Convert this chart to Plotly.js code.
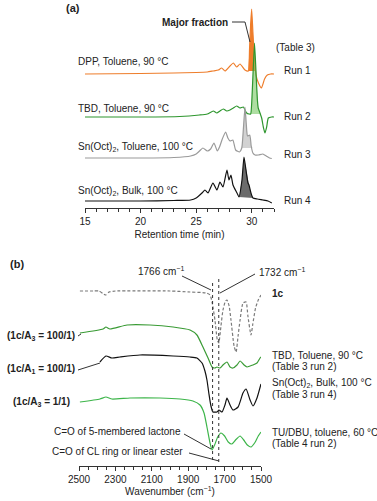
<!DOCTYPE html>
<html>
<head>
<meta charset="utf-8">
<script src="https://cdn.plot.ly/plotly-3.0.1.min.js"></script>
<style>
  html, body { margin: 0; padding: 0; background: #fff; }
  #chart { width: 377px; height: 501px; }
</style>
</head>
<body>
<div id="chart"></div>
<script>
// (a) GPC traces, retention time (min) vs relative signal
const run1T = [15, 20, 23, 25, 26, 26.5, 26.99, 27.29, 27.59, 28.04, 28.34, 28.64, 28.94, 29.39, 29.69, 29.8, 29.9, 29.99, 30.1, 30.2, 30.38, 30.6, 30.87, 31.15, 31.4, 31.7, 32];
const run1Y = [0, 0.5, 1, 1.5, 2, 3, 4, 6, 3, 8, 11, 7, 10, 4, 3, 25, 50, 65, 42, 22, -1, -9, -14, -5, -1, 0, 0];

const run2T = [15, 20, 23.5, 25.3, 26, 26.54, 26.85, 27.14, 27.44, 27.75, 28.04, 28.34, 28.64, 28.94, 29.24, 29.54, 29.75, 29.9, 30.0, 30.1, 30.25, 30.4, 30.5, 30.58, 30.74, 30.89, 31.04, 31.19, 31.34, 31.49, 31.79, 32];
const run2Y = [0, 0, 0.5, 2, 3, 6, 4, 6, 8, 6, 7, 9, 11, 9, 10, 4, 3, 3, 15, 40, 74, 40, 18, 9, 4, -1, -10, -16, -10, -1, 0, 0];

const run3T = [15, 20, 23, 24.5, 25.0, 25.3, 25.6, 26.0, 26.3, 26.6, 26.9, 27.1, 27.35, 27.65, 27.85, 28.05, 28.3, 28.55, 28.9, 29.1, 29.25, 29.39, 29.5, 29.62, 29.82, 29.95, 30.1, 30.3, 30.6, 31.0, 31.3, 31.6, 31.8];
const run3Y = [0, 0, 0.5, 2, 4, 7, 10, 7, 9, 15, 7, 11, 19, 26, 20, 17, 18, 8, 6, 10, 30, 51, 35, 22, 23, 12, 5, 3, 3, 4, 2, 0, -0.5];

const run4T = [15, 20, 23, 24.5, 25.0, 25.52, 25.79, 26.06, 26.51, 26.87, 27.14, 27.41, 27.77, 27.95, 28.13, 28.31, 28.67, 28.85, 29.12, 29.3, 29.48, 29.66, 29.75, 29.93, 30.11, 30.5, 31.0, 31.46, 31.8];
const run4Y = [0, 0, 0.5, 1, 3, 8, 11, 8, 18, 11, 19, 14, 31, 21, 26, 16, 8, 4, 21, 44, 31, 18, 16, 8, 3, 2, 1, 0, -2];

// shaded "major fraction" windows [from, to]
const fractionWin = [[29.69, 30.33], [29.7, 30.85], [28.94, 30.08], [28.85, 30.11]];

// (b) IR spectra, wavenumber (cm-1) vs relative transmittance
const ir1cW = [2495, 2420, 2390, 2365, 2352, 2335, 2300, 2000, 1890, 1800, 1780, 1769, 1753, 1740, 1732, 1720, 1709, 1695, 1687, 1675, 1665, 1648, 1637, 1626, 1615, 1599, 1582, 1572, 1555, 1545, 1530, 1515, 1500];
const ir1c = [0, 0, 0, -3, -4, -1, 0, 0, -1, -2, -4, -11, -29, -49, -52, -35, -19, -10, -9, -15, -29, -55, -61, -45, -29, -12, -11, -25, -44, -33, -17, -9, -4];

const irTbdW = [2495, 2368, 2352, 2330, 2236, 2110, 1983, 1890, 1852, 1819, 1791, 1769, 1753, 1742, 1725, 1709, 1687, 1670, 1654, 1632, 1615, 1593, 1577, 1560, 1544, 1522, 1505, 1500];
const irTbd = [-7, -3, -1, -3, 1, 1, -1, -4, -9, -21, -32, -41, -42, -41, -42, -39, -36, -41, -42, -39, -35, -39, -41, -40, -39, -37, -32, -31];

const irSnW = [2385, 2352, 2319, 2275, 2165, 1983, 1890, 1852, 1824, 1808, 1797, 1786, 1775, 1764, 1742, 1731, 1714, 1698, 1687, 1670, 1654, 1626, 1599, 1582, 1560, 1544, 1522, 1500];
const irSn = [-6, 0, -2, -1, 1, 0, -1, -2, -7, -15, -24, -38, -50, -56, -56, -54, -56, -49, -42, -49, -54, -51, -37, -33, -44, -50, -42, -28];

const irTuW = [2495, 2385, 2352, 2319, 2220, 2055, 1945, 1874, 1835, 1813, 1797, 1780, 1769, 1755, 1738, 1720, 1700, 1680, 1660, 1640, 1615, 1595, 1575, 1555, 1535, 1515, 1500];
const irTu = [-4, -1, 1, -1, 0, 0, -1, -3, -7, -15, -29, -45, -52, -47, -39, -35, -38, -44, -46, -42, -38, -42, -47, -49, -45, -38, -34];

const irBands = [1766, 1732];

// stacking offsets (in plot units)
const W = 377, H = 501;
const runOff = [134, 91, 50, 7];
const irOff = { c1: 175, tbd: 140, sn: 110, tu: 68 };

const FONT = 'Liberation Sans, Arial, sans-serif';
const TXT = '#222';

function line(x, y, off, color, extra) {
  return Object.assign({
    x: x, y: y.map(v => v + off), type: 'scatter', mode: 'lines',
    line: { color: color, width: 1.2, shape: 'spline', smoothing: 0.5 },
    hoverinfo: 'skip', showlegend: false
  }, extra || {});
}

function peakFill(x, y, win, off, color, xa, ya) {
  const xs = [], ys = [];
  x.forEach((t, i) => { if (t >= win[0] && t <= win[1]) { xs.push(t); ys.push(y[i] + off); } });
  const b0 = ys[0], b1 = ys[ys.length - 1];
  const base = Math.min(b0, b1);
  return {
    x: [win[0], ...xs, win[1]], y: [Math.min(b0, base + 1), ...ys, base], type: 'scatter', mode: 'lines',
    fill: 'toself', fillcolor: color, line: { width: 0, color: color },
    xaxis: xa, yaxis: ya, hoverinfo: 'skip', showlegend: false
  };
}

const runs = [
  { t: run1T, y: run1Y, c: '#EE7D2B', f: '#EE7D2B' },
  { t: run2T, y: run2Y, c: '#2E962E', f: 'rgba(120,200,100,0.6)' },
  { t: run3T, y: run3Y, c: '#9a9a9a', f: '#d2d2d2' },
  { t: run4T, y: run4Y, c: '#111111', f: '#6b6b6b' }
];

const traces = [];
runs.forEach((r, i) => {
  traces.push(peakFill(r.t, r.y, fractionWin[i], runOff[i], r.f, 'x', 'y'));
  traces.push(line(r.t, r.y, runOff[i], r.c, { xaxis: 'x', yaxis: 'y' }));
});

traces.push(line(ir1cW, ir1c, irOff.c1, '#7a7a7a', { xaxis: 'x2', yaxis: 'y2', line: { color: '#7a7a7a', width: 1.2, dash: '3px,2px', shape: 'spline', smoothing: 0.5 } }));
traces.push(line(irTbdW, irTbd, irOff.tbd, '#3A9B35', { xaxis: 'x2', yaxis: 'y2' }));
traces.push(line(irSnW, irSn, irOff.sn, '#111111', { xaxis: 'x2', yaxis: 'y2' }));
traces.push(line(irTuW, irTu, irOff.tu, '#3DB54A', { xaxis: 'x2', yaxis: 'y2' }));

function px(x) { return x / W; }
function py(y) { return 1 - y / H; }

function note(text, x, y, anchor, size) {
  return {
    text: text, xref: 'paper', yref: 'paper', x: px(x), y: py(y),
    xanchor: anchor, yanchor: 'middle', showarrow: false,
    font: { family: FONT, size: size || 10, color: TXT }
  };
}

function seg(x0, y0, x1, y1) {
  return {
    type: 'line', xref: 'paper', yref: 'paper',
    x0: px(x0), y0: py(y0), x1: px(x1), y1: py(y1),
    line: { color: '#333', width: 1 }
  };
}

const annotations = [
  note('<b>(a)</b>', 64, 8, 'left', 11),
  note('<b>Major fraction</b>', 230, 22, 'right'),
  note('(Table 3)', 274, 47, 'left'),
  note('Run 1', 282, 71, 'left'),
  note('Run 2', 282, 117, 'left'),
  note('Run 3', 282, 155, 'left'),
  note('Run 4', 282, 201, 'left'),
  note('DPP, Toluene, 90 °C', 76, 62, 'left'),
  note('TBD, Toluene, 90 °C', 76, 108, 'left'),
  note('Sn(Oct)<sub>2</sub>, Toluene, 100 °C', 76, 147, 'left'),
  note('Sn(Oct)<sub>2</sub>, Bulk, 100 °C', 76, 191, 'left'),

  note('<b>(b)</b>', 8, 264, 'left', 11),
  note('1766 cm<sup>−1</sup>', 161, 271, 'center'),
  note('1732 cm<sup>−1</sup>', 257, 272, 'left'),
  note('<b>1c</b>', 270, 293, 'left'),
  note('<b>(1c/A<sub>3</sub> = 100/1)</b>', 77, 336, 'right'),
  note('<b>(1c/A<sub>1</sub> = 100/1)</b>', 77, 369, 'right'),
  note('<b>(1c/A<sub>3</sub> = 1/1)</b>', 72, 402, 'right'),
  note('TBD, Toluene, 90 °C', 270, 355, 'left'),
  note('(Table 3 run 2)', 270, 366, 'left'),
  note('Sn(Oct)<sub>2</sub>, Bulk, 100 °C', 270, 383, 'left'),
  note('(Table 3 run 4)', 270, 394, 'left'),
  note('TU/DBU, toluene, 60 °C', 270, 432, 'left'),
  note('(Table 4 run 2)', 270, 443, 'left'),
  note('C=O of 5-membered lactone', 183, 431, 'right'),
  note('C=O of CL ring or linear ester', 185, 451, 'right')
];

const shapes = [
  seg(232, 22, 245, 22), seg(245, 22, 250, 42),
  seg(182, 276, 211, 290),
  seg(255, 274, 220, 293),
  seg(184, 434, 211, 449),
  seg(189, 453, 219, 461),
  seg(78, 370, 100, 363),
  seg(78, 336, 81, 334),
  ...irBands.map((b, i) => ({
    type: 'line', xref: 'x2', yref: 'y2', x0: b, x1: b,
    y0: i === 0 ? 6 : 4, y1: i === 0 ? 183 : 189,
    line: { color: '#333', width: 1, dash: 'dot' }
  }))
];

const axisCommon = {
  showgrid: false, zeroline: false, showline: true, linecolor: '#333', linewidth: 1,
  ticks: 'outside', ticklen: 4, tickcolor: '#333', tickwidth: 1,
  tickfont: { family: FONT, size: 10, color: TXT }, fixedrange: true
};

const layout = {
  width: W, height: H,
  margin: { l: 0, r: 0, t: 0, b: 0 },
  paper_bgcolor: '#fff', plot_bgcolor: 'rgba(0,0,0,0)',
  font: { family: FONT, size: 10, color: TXT },
  showlegend: false,
  xaxis: Object.assign({}, axisCommon, {
    domain: [85 / W, 274 / W], anchor: 'y', range: [15, 32],
    tick0: 0, dtick: 5,
    minor: { dtick: 1, ticks: 'outside', ticklen: 3, tickcolor: '#333' },
    title: { text: 'Retention time (min)', standoff: 4, font: { family: FONT, size: 10, color: TXT } }
  }),
  yaxis: { domain: [py(208), 1], range: [0, 208], visible: false, fixedrange: true },
  xaxis2: Object.assign({}, axisCommon, {
    domain: [79 / W, 261 / W], anchor: 'y2', range: [2500, 1500],
    tick0: 1500, dtick: 200,
    minor: { dtick: 50, ticks: 'outside', ticklen: 3, tickcolor: '#333' },
    title: { text: 'Wavenumber (cm<sup>−1</sup>)', standoff: 3, font: { family: FONT, size: 10, color: TXT } }
  }),
  yaxis2: { domain: [py(466), py(250)], range: [0, 216], visible: false, fixedrange: true },
  annotations: annotations,
  shapes: shapes
};

Plotly.newPlot('chart', traces, layout, { displayModeBar: false, staticPlot: true });
</script>
</body>
</html>
